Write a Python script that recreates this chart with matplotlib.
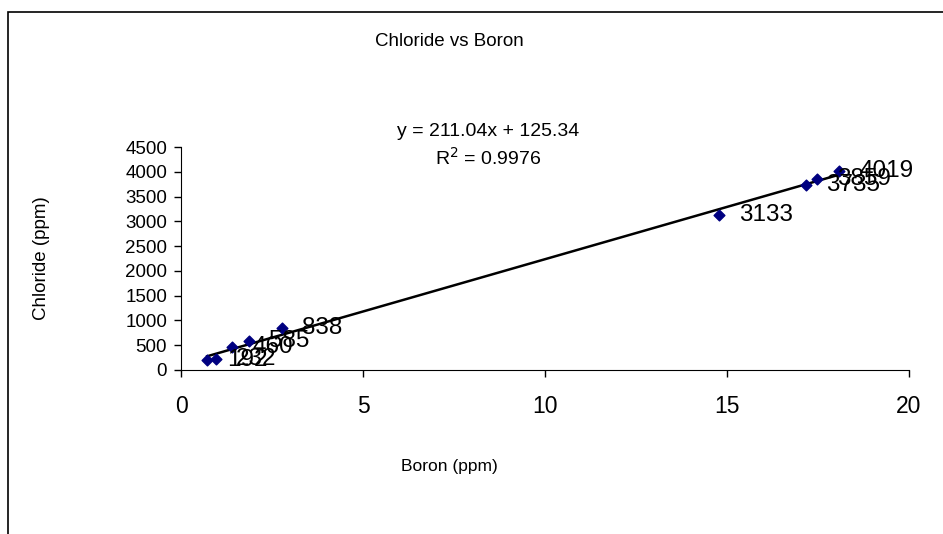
import matplotlib
matplotlib.use("Agg")
import matplotlib.pyplot as plt
import matplotlib.patches as patches
import numpy as np

plt.rcParams['font.family'] = ['Liberation Sans', 'DejaVu Sans']

# data
boron = [0.72, 0.96, 1.41, 1.88, 2.77, 14.79, 17.17, 17.47, 18.08]
chloride = [192, 232, 460, 585, 838, 3133, 3735, 3859, 4019]
point_labels = ['192', '232', '460', '585', '838', '3133', '3735', '3859', '4019']

# trendline as printed on the chart
slope = 211.04
intercept = 125.34
r_squared = 0.9976

x_ticks = [0, 5, 10, 15, 20]
y_ticks = [0, 500, 1000, 1500, 2000, 2500, 3000, 3500, 4000, 4500]

W, H = 943, 534
fig = plt.figure(figsize=(W / 100, H / 100), dpi=100)

# outer chart border (runs off the right and bottom edges)
border = patches.Rectangle((8 / W, -0.1), 1.2, 1.1 - 12 / H, transform=fig.transFigure,
                           fill=False, edgecolor='black', linewidth=1.2)
fig.patches.append(border)

ax = fig.add_axes([181 / W, 1 - 370 / H, (909 - 181) / W, (370 - 147) / H])
ax.set_xlim(0, 20)
ax.set_ylim(0, 4500)
ax.set_xticks(x_ticks)
ax.set_yticks(y_ticks)
ax.spines['top'].set_visible(False)
ax.spines['right'].set_visible(False)
ax.tick_params(axis='both', direction='out', length=5, width=1)
ax.tick_params(axis='x', labelsize=16.5, pad=13)
ax.tick_params(axis='y', labelsize=13.5, pad=5)

ax.scatter(boron, chloride, marker='D', s=30, color='#000080', zorder=3, clip_on=False)

xs = np.array([min(boron), max(boron)])
ax.plot(xs, slope * xs + intercept, color='black', linewidth=1.8, zorder=2)

for xv, yv, lab in zip(boron, chloride, point_labels):
    ax.annotate(lab, (xv, yv), xytext=(20, 0), textcoords='offset pixels',
                fontsize=17.5, va='center', ha='left', annotation_clip=False)

fig.text(449 / W, 1 - 42 / H, 'Chloride vs Boron', fontsize=13.5, ha='center', va='center')
fig.text(488 / W, 1 - 131 / H, 'y = 211.04x + 125.34', fontsize=14, ha='center', va='center')
fig.text(488 / W, 1 - 158 / H, 'R$^2$ = 0.9976', fontsize=14, ha='center', va='center')
fig.text(449 / W, 1 - 467 / H, 'Boron (ppm)', fontsize=12.5, ha='center', va='center')
fig.text(42 / W, 1 - 258 / H, 'Chloride (ppm)', fontsize=13.5, ha='center', va='center',
         rotation=90)

fig.savefig('out.png', dpi=100)
